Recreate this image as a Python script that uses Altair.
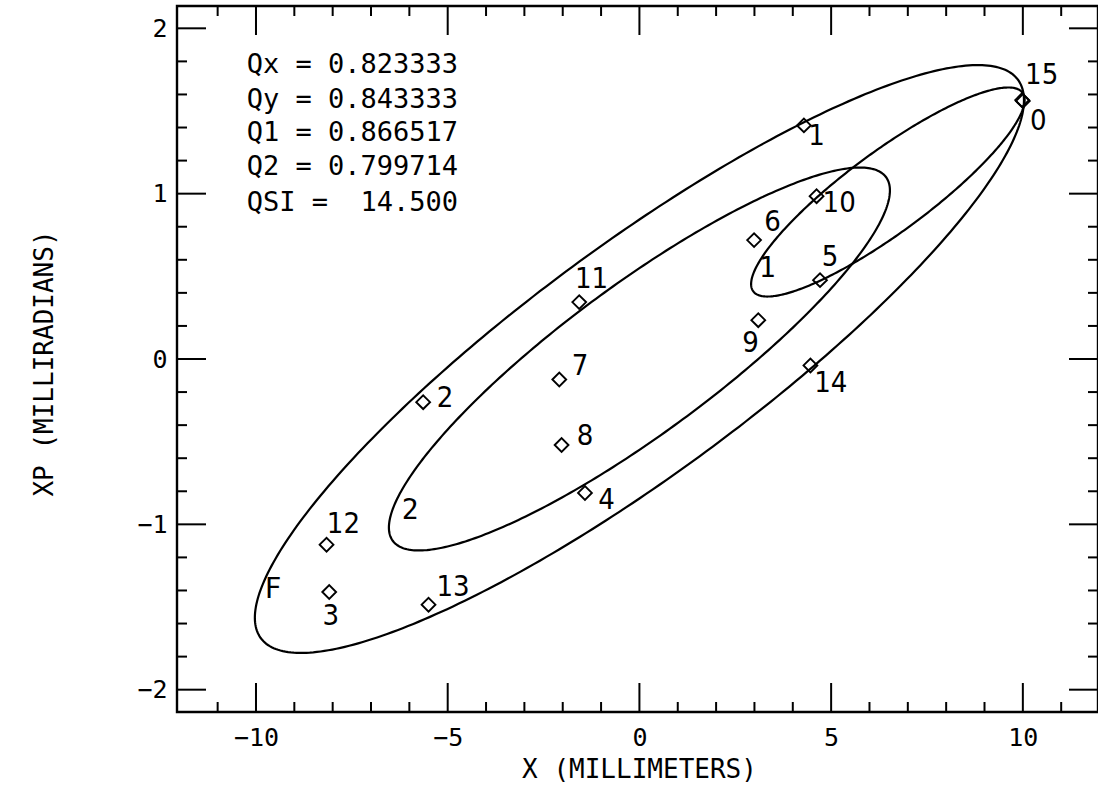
import altair as alt
import pandas as pd
import numpy as np

# ---- data ----
pt_id = ["0", "1", "2", "3", "4", "5", "6", "7", "8", "9", "10", "11", "12", "13", "14", "15"]
pt_x = [10.00, 4.29, -5.64, -8.09, -1.42, 4.71, 2.99, -2.09, -2.03, 3.10, 4.62, -1.57, -8.16, -5.50, 4.46, 9.98]
pt_y = [1.560, 1.413, -0.261, -1.409, -0.810, 0.477, 0.719, -0.124, -0.520, 0.235, 0.985, 0.344, -1.123, -1.486, -0.039, 1.566]
lab_x = [10.40, 4.62, -5.07, -8.05, -0.86, 4.97, 3.47, -1.55, -1.42, 2.90, 5.21, -1.25, -7.72, -4.86, 4.99, 10.49]
lab_y = [1.440, 1.350, -0.235, -1.552, -0.854, 0.618, 0.828, -0.040, -0.467, 0.098, 0.941, 0.485, -1.000, -1.379, -0.144, 1.716]

# ellipses (common Twiss beta/alpha, own centre and emittance)
ell_name = ["F", "2", "1"]
ell_cx = [0.0, 0.0, 6.48]
ell_cy = [0.0, 0.0, 1.01]
ell_eps = [8.46, 3.59, 1.07]
twiss_beta = 11.89
twiss_alpha = -1.855
ell_lab_x = [-9.56, -5.98, 3.33]
ell_lab_y = [-1.399, -0.921, 0.542]

NB = "\u00a0"
param_text = ["Qx = 0.823333", "Qy = 0.843333", "Q1 = 0.866517", "Q2 = 0.799714", "QSI =" + NB + NB + "14.500"]
param_text = [t.replace(" ", NB) for t in param_text]
param_x = [-10.24, -10.24, -10.24, -10.24, -10.24]
param_y = [1.778, 1.569, 1.369, 1.163, 0.941]

x_major = [-10, -5, 0, 5, 10]
x_minor = [-11, -9, -8, -7, -6, -4, -3, -2, -1, 1, 2, 3, 4, 6, 7, 8, 9, 11]
y_major = [-2, -1, 0, 1, 2]
y_minor = [-1.8, -1.6, -1.4, -1.2, -0.8, -0.6, -0.4, -0.2, 0.2, 0.4, 0.6, 0.8, 1.2, 1.4, 1.6, 1.8]

# ---- build tables ----
pts = pd.DataFrame({"id": pt_id, "x": pt_x, "y": pt_y, "lx": lab_x, "ly": lab_y})

rows = []
phis = np.linspace(0, 2 * np.pi, 361)
for name, cx, cy, eps in zip(ell_name, ell_cx, ell_cy, ell_eps):
    for k, ph in enumerate(phis):
        xx = cx + np.sqrt(eps * twiss_beta) * np.cos(ph)
        yy = cy - np.sqrt(eps / twiss_beta) * (twiss_alpha * np.cos(ph) + np.sin(ph))
        rows.append({"name": name, "k": k, "x": xx, "y": yy})
ell = pd.DataFrame(rows)
ell_labels = pd.DataFrame({"t": ell_name, "x": ell_lab_x, "y": ell_lab_y})
params = pd.DataFrame({"t": param_text, "x": param_x, "y": param_y})

W, H = 921, 706
MAJ, MIN = 29, 10
xs = alt.Scale(domain=[-12.06, 11.96], nice=False, zero=False)
ys = alt.Scale(domain=[-2.135, 2.135], nice=False, zero=False)
MONO = "DejaVu Sans Mono"
HAND = "DejaVu Sans Condensed, DejaVu Sans"

xaxis = alt.Axis(values=x_major, title="X (MILLIMETERS)", grid=False, ticks=False, domain=False,
                 labelFont=MONO, labelFontSize=25, labelColor="black", labelPadding=13,
                 titleFont=MONO, titleFontSize=26, titleFontWeight="normal", titleColor="black",
                 titleX=462, titleY=57, titleBaseline="middle")
yaxis = alt.Axis(values=y_major, title="XP (MILLIRADIANS)", grid=False, ticks=False, domain=False,
                 labelFont=MONO, labelFontSize=25, labelColor="black", labelPadding=10,
                 titleFont=MONO, titleFontSize=26, titleFontWeight="normal", titleColor="black",
                 titleX=-133, titleY=357, titleBaseline="middle", titleAngle=-90)

X = lambda f: alt.X(f, scale=xs, axis=xaxis)
Y = lambda f: alt.Y(f, scale=ys, axis=yaxis)

base_lines = alt.Chart(ell).mark_line(color="black", strokeWidth=2.2).encode(
    x=X("x:Q"), y=Y("y:Q"), detail="name:N", order="k:Q",
)

diamonds = alt.Chart(pts).mark_point(shape="diamond", size=190, filled=False, color="black",
                                     strokeWidth=1.9, opacity=1).encode(
    x=X("x:Q"), y=Y("y:Q"),
)

pt_labels = alt.Chart(pts).mark_text(font=HAND, fontSize=29, color="black",
                                     align="center", baseline="middle").encode(
    x=X("lx:Q"), y=Y("ly:Q"), text="id:N",
)

e_labels = alt.Chart(ell_labels).mark_text(font=MONO, fontSize=28, color="black",
                                           align="center", baseline="middle").encode(
    x=X("x:Q"), y=Y("y:Q"), text="t:N",
)

p_text = alt.Chart(params).mark_text(font=MONO, fontSize=27, color="black",
                                     align="left", baseline="middle").encode(
    x=X("x:Q"), y=Y("y:Q"), text="t:N",
)

def xt(vals, length, top):
    d = pd.DataFrame({"v": vals})
    if top:
        yy, yy2 = alt.value(0), alt.value(length)
    else:
        yy, yy2 = alt.value(H), alt.value(H - length)
    return alt.Chart(d).mark_rule(color="black", strokeWidth=2).encode(x=X("v:Q"), y=yy, y2=yy2)

def yt(vals, length, right):
    d = pd.DataFrame({"v": vals})
    if right:
        xx, xx2 = alt.value(W), alt.value(W - length)
    else:
        xx, xx2 = alt.value(0), alt.value(length)
    return alt.Chart(d).mark_rule(color="black", strokeWidth=2).encode(y=Y("v:Q"), x=xx, x2=xx2)

ticks = [xt(x_major, MAJ, False), xt(x_minor, MIN, False), xt(x_major, MAJ, True), xt(x_minor, MIN, True),
         yt(y_major, MAJ, False), yt(y_minor, MIN, False), yt(y_major, MAJ, True), yt(y_minor, MIN, True)]

chart = alt.layer(base_lines, *ticks, diamonds, pt_labels, e_labels, p_text).properties(
    width=W, height=H,
    autosize=alt.AutoSizeParams(type="none"),
    padding={"left": 177, "top": 6, "right": 0, "bottom": 74},
    background="white",
).configure_view(stroke="black", strokeWidth=2.4)

chart.save("out.html", embed_options={"renderer": "svg", "actions": False})
